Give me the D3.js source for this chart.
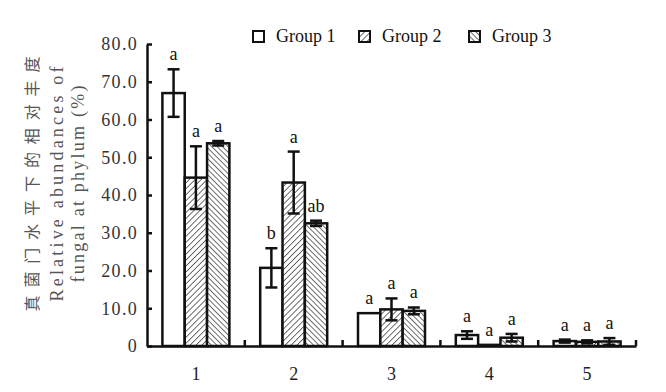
<!DOCTYPE html>
<meta charset="utf-8">
<style>
body { margin: 0; background: #fff; }
text { font-family: "Times New Roman", "Liberation Serif", serif; }
text.cjk { font-family: "Noto Sans CJK SC", sans-serif; }
</style>
<script src="https://cdn.jsdelivr.net/npm/d3@7/dist/d3.min.js"></script>
<body>
<script>
// phyla on the x axis
const categories = ['1', '2', '3', '4', '5'];
const groups = ['Group 1', 'Group 2', 'Group 3'];

// relative abundance (%) per group
const group1 = [67.0, 20.7, 8.7, 2.9, 1.3];
const group2 = [44.6, 43.3, 9.7, 0.3, 1.1];
const group3 = [53.7, 32.5, 9.3, 2.2, 1.2];

// error bar half-lengths
const err1 = [6.3, 5.2, 0, 1.0, 0.4];
const err2 = [8.3, 8.2, 2.9, 0, 0.4];
const err3 = [0.6, 0.7, 0.9, 1.0, 0.9];

// significance letters
const sig1 = ['a', 'b', 'a', 'a', 'a'];
const sig2 = ['a', 'a', 'a', 'a', 'a'];
const sig3 = ['a', 'ab', 'a', 'a', 'a'];

const yTicks = [0, 10, 20, 30, 40, 50, 60, 70, 80];

const series = [
  {name: groups[0], values: group1, err: err1, sig: sig1, fill: '#fff'},
  {name: groups[1], values: group2, err: err2, sig: sig2, fill: 'url(#hatchA)'},
  {name: groups[2], values: group3, err: err3, sig: sig3, fill: 'url(#hatchB)'}
];

const rows = [];
series.forEach(s => {
  categories.forEach((c, i) => {
    rows.push({cat: c, group: s.name, v: s.values[i], e: s.err[i], sig: s.sig[i], fill: s.fill});
  });
});

const W = 666, H = 392;
const svg = d3.select('body').append('svg')
  .attr('width', W)
  .attr('height', H);

const defs = svg.append('defs');
function hatch(id, angle, gap) {
  const p = defs.append('pattern')
    .attr('id', id)
    .attr('patternUnits', 'userSpaceOnUse')
    .attr('width', gap)
    .attr('height', gap)
    .attr('patternTransform', `rotate(${angle})`);
  p.append('rect').attr('width', gap).attr('height', gap).attr('fill', '#fff');
  p.append('line')
    .attr('x1', 0).attr('y1', 0).attr('x2', 0).attr('y2', gap)
    .attr('stroke', '#222')
    .attr('stroke-width', 1.3);
}
hatch('hatchA', 45, 4.2);
hatch('hatchB', -45, 3.8);

const x0 = 147, x1 = 636, yBase = 346, yTop = 44;

const x = d3.scaleBand()
  .domain(categories)
  .range([x0, x1])
  .paddingInner(0)
  .paddingOuter(0);

const xg = d3.scaleBand()
  .domain(groups)
  .range([0, x.bandwidth()])
  .paddingInner(0)
  .paddingOuter(0.69);

const y = d3.scaleLinear()
  .domain([0, 80])
  .range([yBase, yTop]);

// bars
svg.append('g')
  .selectAll('rect')
  .data(rows)
  .enter()
  .append('rect')
    .attr('x', d => x(d.cat) + xg(d.group))
    .attr('width', xg.bandwidth())
    .attr('y', d => y(d.v))
    .attr('height', d => yBase - y(d.v))
    .attr('fill', d => d.fill)
    .attr('stroke', '#111')
    .attr('stroke-width', 2.5);

// error bars
const eb = svg.append('g')
  .attr('stroke', '#111')
  .attr('stroke-width', 2.5)
  .selectAll('g')
  .data(rows.filter(d => d.e > 0))
  .enter()
  .append('g')
    .attr('transform', d => `translate(${x(d.cat) + xg(d.group) + xg.bandwidth() / 2},0)`);

eb.append('line')
  .attr('y1', d => y(d.v + d.e))
  .attr('y2', d => y(Math.max(0, d.v - d.e)));
eb.append('line')
  .attr('x1', -6).attr('x2', 6)
  .attr('y1', d => y(d.v + d.e))
  .attr('y2', d => y(d.v + d.e));
eb.append('line')
  .attr('x1', -6).attr('x2', 6)
  .attr('y1', d => y(Math.max(0, d.v - d.e)))
  .attr('y2', d => y(Math.max(0, d.v - d.e)));

// letters
svg.append('g')
  .selectAll('text')
  .data(rows)
  .enter()
  .append('text')
    .attr('x', d => x(d.cat) + xg(d.group) + xg.bandwidth() / 2)
    .attr('y', d => y(d.v + d.e) - 9)
    .attr('text-anchor', 'middle')
    .style('font-size', '18px')
    .style('fill', '#111')
    .text(d => d.sig);

// y axis
const yAxis = svg.append('g')
  .attr('transform', `translate(${x0},0)`)
  .call(d3.axisLeft(y)
    .tickValues(yTicks)
    .tickSizeInner(-5)
    .tickSizeOuter(0)
    .tickPadding(9)
    .tickFormat(d => d === 0 ? '0' : d.toFixed(1)));
yAxis.select('.domain').attr('stroke', '#111').attr('stroke-width', 2.5);
yAxis.selectAll('.tick line').attr('stroke', '#111').attr('stroke-width', 2.5);
yAxis.selectAll('.tick text')
  .style('font-size', '18px')
  .style('letter-spacing', '1.3px')
  .style('fill', '#333');

// x axis
const xAxis = svg.append('g')
  .attr('transform', `translate(0,${yBase})`)
  .call(d3.axisBottom(x).tickSize(0).tickPadding(21).tickSizeOuter(0));
xAxis.select('.domain').attr('stroke', '#111').attr('stroke-width', 2.5);
xAxis.selectAll('.tick text')
  .style('font-size', '18px')
  .style('fill', '#222');

// small tick marks between categories
xAxis.append('g')
  .selectAll('line')
  .data(categories)
  .enter()
  .append('line')
    .attr('x1', d => x(d) + x.bandwidth())
    .attr('x2', d => x(d) + x.bandwidth())
    .attr('y1', 0)
    .attr('y2', -6)
    .attr('stroke', '#111')
    .attr('stroke-width', 2.5);

// y title, three rotated lines
const titles = [
  {t: '真菌门水平下的相对丰度', x: 38, len: 255, size: 16, cls: 'cjk'},
  {t: 'Relative abundances of', x: 63, len: 235, size: 18, cls: ''},
  {t: 'fungal at phylum (%)', x: 84, len: 197, size: 18, cls: ''}
];
svg.append('g')
  .selectAll('text')
  .data(titles)
  .enter()
  .append('text')
    .attr('class', d => d.cls)
    .attr('transform', d => `translate(${d.x},184) rotate(-90)`)
    .attr('text-anchor', 'middle')
    .attr('textLength', d => d.len)
    .attr('lengthAdjust', 'spacing')
    .style('font-size', d => d.size + 'px')
    .style('fill', '#555')
    .text(d => d.t);

// legend
const legX = [253, 359, 469];
const leg = svg.append('g')
  .selectAll('g')
  .data(series)
  .enter()
  .append('g')
    .attr('transform', (d, i) => `translate(${legX[i]},31)`);
leg.append('rect')
  .attr('width', 11)
  .attr('height', 11)
  .attr('fill', d => d.fill)
  .attr('stroke', '#111')
  .attr('stroke-width', 2);
leg.append('text')
  .attr('x', 23)
  .attr('y', 11)
  .style('font-size', '18px')
  .style('fill', '#111')
  .text(d => d.name);
</script>
</body>
</html>
